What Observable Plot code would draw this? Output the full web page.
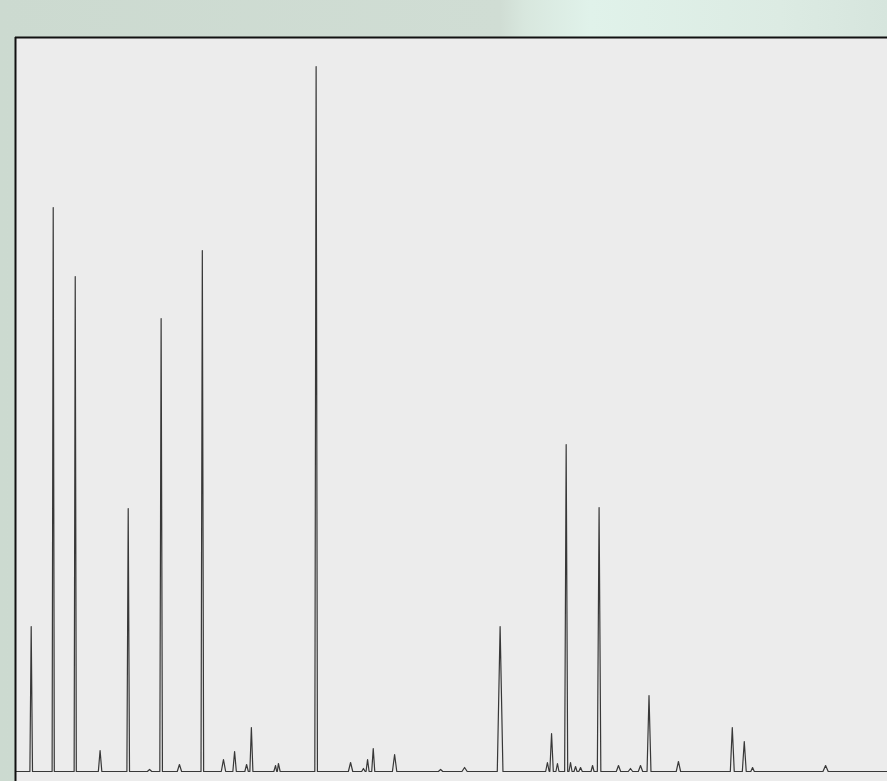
<!DOCTYPE html>
<html>
<head>
<meta charset="utf-8">
<script src="https://cdn.jsdelivr.net/npm/d3@7"></script>
<script src="https://cdn.jsdelivr.net/npm/@observablehq/plot@0.6"></script>
<style>
  html, body { margin: 0; padding: 0; }
  body {
    width: 887px; height: 781px; overflow: hidden;
    background: linear-gradient(to right, #ccdad0 0px, #d0ddd4 500px, #d8e7de 525px, #e0f2ea 590px, #dcebe3 780px, #d6e5dd 887px);
  }
</style>
</head>
<body>
<div id="chart"></div>
<script>
// Peak retention times (min), heights (signal units) and half base widths (min)
const peakTime   = [0.72, 1.73, 2.74, 3.88, 5.17, 6.15, 6.68, 7.52, 8.57, 9.54, 10.05, 10.60, 10.82, 11.93, 12.06, 13.79, 15.37, 15.96, 16.15, 16.41, 17.39, 19.50, 20.60, 22.23, 24.40, 24.59, 24.86, 25.26, 25.46, 25.69, 25.92, 26.47, 26.77, 27.66, 28.21, 28.67, 29.06, 30.41, 32.88, 33.43, 33.81, 37.16];
const peakHeight = [145, 564, 495, 21, 263, 2, 453, 7, 521, 12, 20, 7, 44, 6, 8, 705, 9, 3, 12, 23, 17, 2, 4, 145, 9, 38, 8, 327, 9, 5, 4, 6, 264, 6, 3, 6, 76, 10, 44, 30, 4, 6];
const peakWidth  = [0.06, 0.05, 0.05, 0.08, 0.06, 0.1, 0.06, 0.1, 0.06, 0.1, 0.08, 0.08, 0.07, 0.08, 0.08, 0.06, 0.1, 0.08, 0.07, 0.07, 0.1, 0.1, 0.12, 0.13, 0.08, 0.08, 0.07, 0.07, 0.07, 0.07, 0.08, 0.07, 0.08, 0.1, 0.1, 0.1, 0.09, 0.1, 0.09, 0.09, 0.08, 0.12];
const timeDomain = [0, 40];
const signalDomain = [-10, 734];

// Build the trace: baseline - apex - baseline for each peak
const trace = [{t: timeDomain[0], s: 0}];
peakTime.forEach((t, i) => {
  trace.push({t: t - peakWidth[i], s: 0});
  trace.push({t: t, s: peakHeight[i]});
  trace.push({t: t + peakWidth[i], s: 0});
});
trace.push({t: timeDomain[1], s: 0});
trace.sort((a, b) => a.t - b.t);

const chart = Plot.plot({
  width: 887,
  height: 781,
  marginTop: 37,
  marginLeft: 15,
  marginRight: 0,
  marginBottom: 0,
  style: {background: "transparent"},
  x: {domain: timeDomain, axis: null},
  y: {domain: signalDomain, axis: null},
  marks: [
    Plot.frame({fill: "#ececec", stroke: null}),
    Plot.line(trace, {x: "t", y: "s", stroke: "#383838", strokeWidth: 1.2}),
    Plot.ruleY([signalDomain[1]], {stroke: "#111", strokeWidth: 2}),
    Plot.ruleX([timeDomain[0]], {stroke: "#111", strokeWidth: 2})
  ]
});
document.getElementById("chart").appendChild(chart);
</script>
</body>
</html>
